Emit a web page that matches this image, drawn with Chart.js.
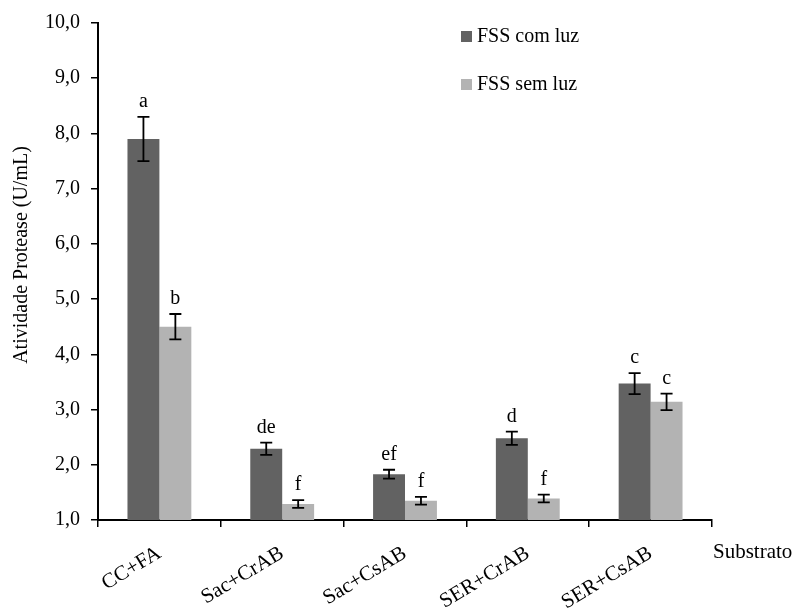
<!DOCTYPE html>
<html>
<head>
<meta charset="UTF-8">
<title>Atividade Protease</title>
<script src="https://cdn.jsdelivr.net/npm/chart.js@4.4.0/dist/chart.umd.min.js"></script>
<style>
    body { margin: 0; background: #fff; }
    #wrap { width: 794px; height: 611px; }
</style>
</head>
<body>
<div id="wrap"><canvas id="grafico" width="794" height="611"></canvas></div>
<script>
    // dados
    var substratos = ["CC+FA", "Sac+CrAB", "Sac+CsAB", "SER+CrAB", "SER+CsAB"];
    var comLuz = [7.90, 2.29, 1.83, 2.48, 3.47];
    var comLuzErro = [0.40, 0.11, 0.08, 0.12, 0.19];
    var comLuzLetras = ["a", "de", "ef", "d", "c"];
    var semLuz = [4.50, 1.29, 1.35, 1.39, 3.14];
    var semLuzErro = [0.23, 0.07, 0.07, 0.07, 0.15];
    var semLuzLetras = ["b", "f", "f", "f", "c"];
    var yTicks = [1, 2, 3, 4, 5, 6, 7, 8, 9, 10];

    var fonte = "'Liberation Serif', 'Times New Roman', serif";

    // barras de erro + letras
    var errosPlugin = {
        id: "erros",
        afterDatasetsDraw: function (chart) {
            var ctx = chart.ctx;
            var y = chart.scales.y;
            chart.data.datasets.forEach(function (ds, i) {
                var meta = chart.getDatasetMeta(i);
                meta.data.forEach(function (bar, j) {
                    var v = ds.data[j], e = ds.erro[j];
                    var yt = y.getPixelForValue(v + e);
                    var yb = y.getPixelForValue(v - e);
                    ctx.save();
                    ctx.strokeStyle = "#000";
                    ctx.lineWidth = 1.8;
                    ctx.beginPath();
                    ctx.moveTo(bar.x, yt); ctx.lineTo(bar.x, yb);
                    ctx.moveTo(bar.x - 6, yt); ctx.lineTo(bar.x + 6, yt);
                    ctx.moveTo(bar.x - 6, yb); ctx.lineTo(bar.x + 6, yb);
                    ctx.stroke();
                    ctx.fillStyle = "#000";
                    ctx.font = "20px " + fonte;
                    ctx.textAlign = "center";
                    ctx.textBaseline = "alphabetic";
                    ctx.fillText(ds.letras[j], bar.x, yt - 10);
                    ctx.restore();
                });
            });
        },
        afterDraw: function (chart) {
            var ctx = chart.ctx;
            var area = chart.chartArea;
            ctx.save();
            ctx.fillStyle = "#000";
            // titulo do eixo y
            ctx.font = "20px " + fonte;
            ctx.textAlign = "center";
            ctx.textBaseline = "middle";
            ctx.translate(22, 255);
            ctx.rotate(-Math.PI / 2);
            ctx.fillText("Atividade Protease (U/mL)", 0, 0);
            ctx.restore();

            ctx.save();
            ctx.fillStyle = "#000";
            ctx.font = "21px " + fonte;
            ctx.textAlign = "left";
            ctx.textBaseline = "middle";
            ctx.fillText("Substrato", area.right + 1, 552);

            // legenda
            ctx.font = "20px " + fonte;
            chart.data.datasets.forEach(function (ds, i) {
                var ly = 37 + i * 48;
                ctx.fillStyle = ds.backgroundColor;
                ctx.fillRect(461, ly - 6, 11, 11);
                ctx.fillStyle = "#000";
                ctx.fillText(ds.label, 477, ly);
            });
            ctx.restore();
        }
    };

    var ctx = document.getElementById("grafico").getContext("2d");
    var grafico = new Chart(ctx, {
        type: "bar",
        data: {
            labels: substratos,
            datasets: [
                {
                    label: "FSS com luz",
                    data: comLuz,
                    erro: comLuzErro,
                    letras: comLuzLetras,
                    backgroundColor: "#626262",
                    borderWidth: 0,
                    categoryPercentage: 0.52,
                    barPercentage: 1.0
                },
                {
                    label: "FSS sem luz",
                    data: semLuz,
                    erro: semLuzErro,
                    letras: semLuzLetras,
                    backgroundColor: "#b3b3b3",
                    borderWidth: 0,
                    categoryPercentage: 0.52,
                    barPercentage: 1.0
                }
            ]
        },
        options: {
            responsive: false,
            animation: false,
            layout: { padding: { left: 0, top: 20, right: 82, bottom: 0 } },
            plugins: {
                legend: { display: false },
                tooltip: { enabled: false }
            },
            scales: {
                x: {
                    afterFit: function (s) { s.height = 91; },
                    grid: {
                        display: true,
                        drawOnChartArea: false,
                        drawTicks: true,
                        tickLength: 7,
                        color: "#000",
                        lineWidth: 1.5
                    },
                    border: { color: "#000", width: 2 },
                    ticks: {
                        color: "#000",
                        font: { family: fonte, size: 21 },
                        minRotation: 31,
                        maxRotation: 31,
                        padding: 14
                    }
                },
                y: {
                    min: 1,
                    max: 10,
                    afterFit: function (s) { s.width = 98; },
                    afterBuildTicks: function (s) {
                        s.ticks = yTicks.map(function (v) { return { value: v }; });
                    },
                    grid: {
                        display: true,
                        drawOnChartArea: false,
                        drawTicks: true,
                        tickLength: 7,
                        color: "#000",
                        lineWidth: 1.5
                    },
                    border: { color: "#000", width: 2 },
                    ticks: {
                        color: "#000",
                        font: { family: fonte, size: 20 },
                        padding: 11,
                        callback: function (v) { return v.toFixed(1).replace(".", ","); }
                    }
                }
            }
        },
        plugins: [errosPlugin]
    });
</script>
</body>
</html>
